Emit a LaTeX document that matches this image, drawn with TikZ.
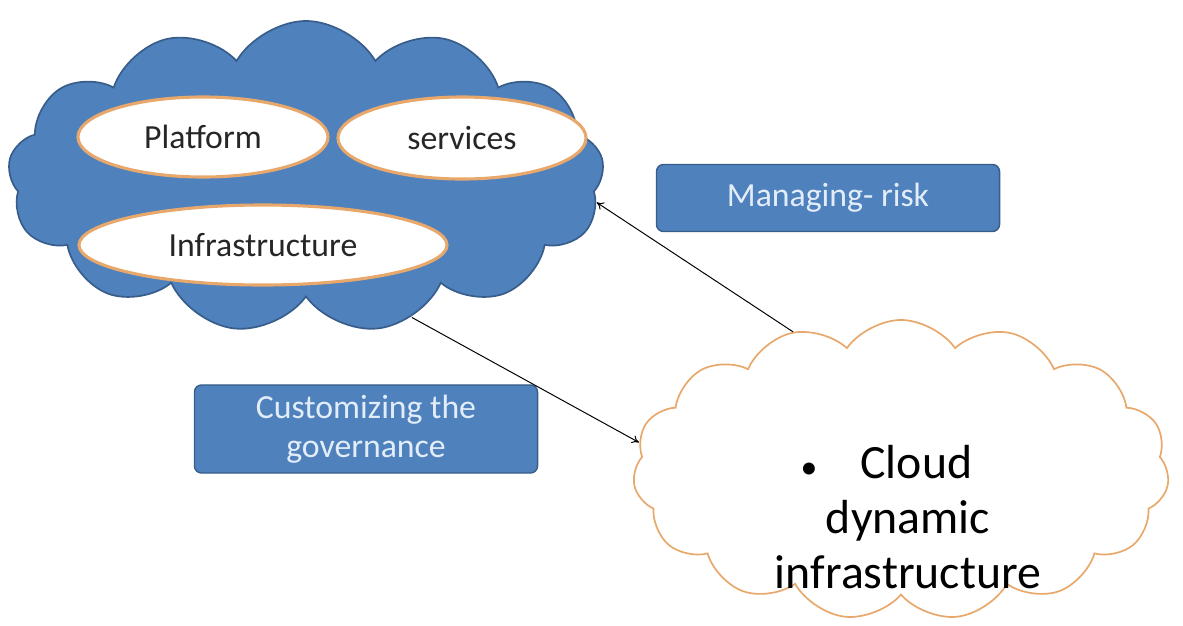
\documentclass[tikz,border=0pt]{standalone}
\usepackage{fontspec}
\setmainfont{Carlito}
\usepackage{tikz}
\usetikzlibrary{shapes.symbols}
\usetikzlibrary{shapes.geometric}
\usetikzlibrary{arrows.meta}
\definecolor{officeblue}{RGB}{79,129,189}
\definecolor{darkblue}{RGB}{56,93,138}
\definecolor{softorange}{RGB}{232,168,108}
\definecolor{paleblue}{RGB}{226,237,249}
\tikzstyle{every node}=[inner sep=0pt]
\tikzstyle{bluecloud}=[cloud,cloud puffs=13,cloud puff arc=120,cloud ignores aspect,draw=darkblue,line width=1.2pt,fill=officeblue]
\tikzstyle{whitecloud}=[cloud,cloud puffs=15,cloud puff arc=110,cloud ignores aspect,draw=softorange,line width=1.2pt,fill=white]
\tikzstyle{layer}=[ellipse,draw=softorange,line width=2.2pt,fill=white,text=black!85,font=\medtext]
\tikzstyle{labelbox}=[rectangle,rounded corners=5pt,draw=darkblue,line width=1pt,fill=officeblue,text=paleblue,align=center,font=\medtext]
\tikzstyle{link}=[-{To[length=5pt,width=6pt]},line width=0.7pt]
\newcommand{\medtext}{\fontsize{24}{28}\selectfont}
\newcommand{\largetext}{\fontsize{34}{39}\selectfont}

\begin{document}
\begin{tikzpicture}[x=0.025cm,y=-0.025cm]
  \useasboundingbox (0,0) rectangle (1183,625);
  % left cloud with its three layers
  \node[bluecloud,minimum width=14.9cm,minimum height=7.8cm] (servicecloud) at (306,177) {};
  \node[layer,minimum width=6.25cm,minimum height=2cm] (platform) at (203,137) {Platform};
  \node[layer,minimum width=6.2cm,minimum height=2.05cm] (services) at (462,138) {services};
  \node[layer,minimum width=9.2cm,minimum height=2cm] (infra) at (263,245) {Infrastructure};
  % right cloud
  \node[whitecloud,minimum width=13.4cm,minimum height=7.5cm] (dyncloud) at (901,470) {};
  \node[align=center,font=\largetext] (dyntext) at (908,517) {{\medtext\textbullet}\hspace{0.9em}Cloud\hspace*{0.9em}\\dynamic\\infrastructure};
  % labels
  \node[labelbox,minimum width=8.575cm,minimum height=1.675cm] (risk) at (828,198) {Managing- risk};
  \node[labelbox,minimum width=8.575cm,minimum height=2.2cm] (governance) at (366,429) {Customizing the\\governance};
  % connectors
  \draw[link] (dyncloud.128) -- (servicecloud.-5);
  \draw[link] (servicecloud.-53) -- (dyncloud.174);
\end{tikzpicture}
\end{document}
